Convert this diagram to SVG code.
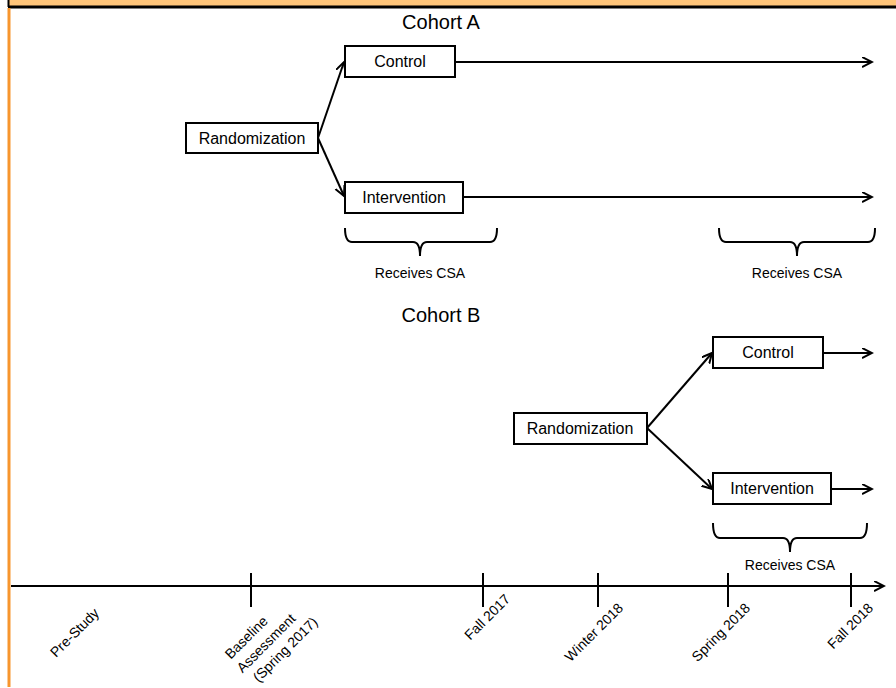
<svg xmlns="http://www.w3.org/2000/svg" width="896" height="688" viewBox="0 0 896 688">
<defs>
<marker id="arr" markerWidth="12" markerHeight="12" refX="10" refY="5" orient="auto" markerUnits="userSpaceOnUse">
<path d="M0,0 L10,5 L0,10" fill="none" stroke="#000" stroke-width="2"/>
</marker>
<style>
.box{fill:#fff;stroke:#000;stroke-width:2}
.lbl{font-family:"Liberation Sans",Arial,sans-serif;font-size:16px;fill:#000;text-anchor:middle}
.title{font-family:"Liberation Sans",Arial,sans-serif;font-size:20px;fill:#000;text-anchor:middle}
.small{font-family:"Liberation Sans",Arial,sans-serif;font-size:14px;fill:#000;text-anchor:middle}
.tl{font-family:"Liberation Sans",Arial,sans-serif;font-size:14px;fill:#000;text-anchor:end}
.ln{stroke:#000;stroke-width:2;fill:none}
.br{stroke:#000;stroke-width:2;fill:none}
</style>
</defs>
<rect width="896" height="688" fill="#fff"/>
<rect x="8" y="0" width="888" height="7" fill="#FFC57A"/>
<line x1="8" y1="7" x2="896" y2="7" stroke="#000" stroke-width="3"/>
<line x1="8.5" y1="0" x2="8.5" y2="7" stroke="#000" stroke-width="2"/>
<line x1="9" y1="8" x2="9" y2="687" stroke="#F7962E" stroke-width="3"/>

<text class="title" x="441" y="29">Cohort A</text>
<text class="title" x="441" y="322">Cohort B</text>

<g id="connectors">
<line class="ln" x1="318" y1="138" x2="344" y2="62" marker-end="url(#arr)"/>
<line class="ln" x1="318" y1="138" x2="344" y2="196" marker-end="url(#arr)"/>
<line class="ln" x1="455" y1="62" x2="872" y2="62" marker-end="url(#arr)"/>
<line class="ln" x1="463" y1="197" x2="872" y2="197" marker-end="url(#arr)"/>
<line class="ln" x1="647" y1="428" x2="712" y2="353" marker-end="url(#arr)"/>
<line class="ln" x1="647" y1="428" x2="712" y2="489" marker-end="url(#arr)"/>
<line class="ln" x1="823" y1="353" x2="872" y2="353" marker-end="url(#arr)"/>
<line class="ln" x1="831" y1="489" x2="872" y2="489" marker-end="url(#arr)"/>
</g>

<g id="randA"><rect class="box" x="186" y="123" width="132" height="30"/><text class="lbl" x="252" y="144">Randomization</text></g>
<g id="controlA"><rect class="box" x="345" y="46" width="110" height="31"/><text class="lbl" x="400" y="67">Control</text></g>
<g id="interventionA"><rect class="box" x="345" y="182" width="118" height="31"/><text class="lbl" x="404" y="203">Intervention</text></g>

<g id="randB"><rect class="box" x="514" y="413" width="133" height="31"/><text class="lbl" x="580" y="434">Randomization</text></g>
<g id="controlB"><rect class="box" x="713" y="337" width="110" height="31"/><text class="lbl" x="768" y="358">Control</text></g>
<g id="interventionB"><rect class="box" x="713" y="473" width="118" height="31"/><text class="lbl" x="772" y="494">Intervention</text></g>

<g id="bracesA">
<path class="br" d="M345,228 Q345,242 352,242 L413,242 Q420,242 420,256 Q420,242 427,242 L490,242 Q497,242 497,228"/>
<text class="small" x="420" y="278">Receives CSA</text>
<path class="br" d="M719,228 Q719,242 726,242 L790,242 Q797,242 797,256 Q797,242 804,242 L868,242 Q875,242 875,228"/>
<text class="small" x="797" y="278">Receives CSA</text>
</g>
<g id="braceB">
<path class="br" d="M713,523 Q713,538 720,538 L783,538 Q790,538 790,552 Q790,538 797,538 L860,538 Q867,538 867,523"/>
<text class="small" x="790" y="570">Receives CSA</text>
</g>

<g id="timeline">
<line class="ln" x1="11" y1="586" x2="884" y2="586" marker-end="url(#arr)"/>
<line class="ln" x1="251" y1="573" x2="251" y2="607"/>
<line class="ln" x1="483" y1="573" x2="483" y2="607"/>
<line class="ln" x1="598" y1="573" x2="598" y2="607"/>
<line class="ln" x1="728" y1="573" x2="728" y2="607"/>
<line class="ln" x1="851" y1="573" x2="851" y2="607"/>
<text class="tl" transform="translate(100,614) rotate(-45)">Pre-Study</text>
<text class="tl" transform="translate(511,600) rotate(-45)">Fall 2017</text>
<text class="tl" transform="translate(624,609) rotate(-45)">Winter 2018</text>
<text class="tl" transform="translate(751,609) rotate(-45)">Spring 2018</text>
<text class="tl" transform="translate(874,609) rotate(-45)">Fall 2018</text>
<g transform="translate(266,643) rotate(-45)">
<text class="small" x="-10" y="-13">Baseline</text>
<text class="small" x="0" y="5">Assessment</text>
<text class="small" x="9" y="23">(Spring 2017)</text>
</g>
</g>
</svg>
